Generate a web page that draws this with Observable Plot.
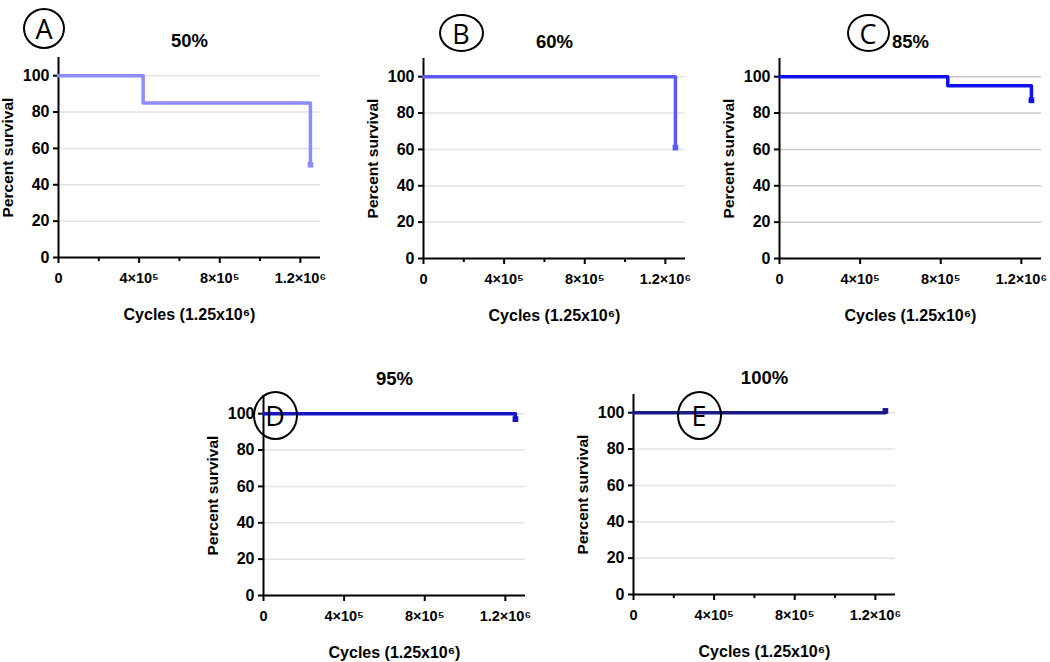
<!DOCTYPE html>
<html><head><meta charset="utf-8">
<script src="https://cdn.jsdelivr.net/npm/d3@7"></script>
<script src="https://cdn.jsdelivr.net/npm/@observablehq/plot@0.6"></script>
<style>
body{margin:0;background:#fff;}
#wrap{position:relative;width:1050px;height:662px;overflow:hidden;background:#fff;}
.panel{position:absolute;}
.badge{position:absolute;border:2px solid #000;border-radius:50%;box-sizing:border-box;display:flex;align-items:center;justify-content:center;font-family:"Open Sans",sans-serif;font-size:27px;line-height:1;color:#000;}
</style></head><body><div id="wrap"></div>
<script>
// ---- data ----
const panelIds = ["A", "B", "C", "D", "E"];
const panelTitles = ["50%", "60%", "85%", "95%", "100%"];
const cyclesA = [0, 420000, 1250000];   const survivalA = [100, 85, 51];
const cyclesB = [0, 1250000];           const survivalB = [100, 61];
const cyclesC = [0, 835000, 1250000];   const survivalC = [100, 95, 87];
const cyclesD = [0, 1250000];           const survivalD = [100, 97];
const cyclesE = [0, 1250000];           const survivalE = [100, 101];
const xTickValues = [0, 400000, 800000, 1200000];
const xTickLabels = ["0", "4×10⁵", "8×10⁵", "1.2×10⁶"];
const xMinorTicks = [200000, 600000, 1000000];
const yTickValues = [0, 20, 40, 60, 80, 100];
const gridValues = [20, 40, 60, 80, 100];
const xLabel = "Cycles (1.25x10⁶)";
const yLabel = "Percent survival";

// ---- layout / style ----
const panels = [
  {id: "A", cycles: cyclesA, surv: survivalA, color: "#8c8cff", grid: "#e4e4e4", minor: true,  ox: 58,  oy: 257, badge: [44, 28, 42, 41]},
  {id: "B", cycles: cyclesB, surv: survivalB, color: "#5a5af8", grid: "#e4e4e4", minor: true,  ox: 423, oy: 258, badge: [461, 33, 45, 38]},
  {id: "C", cycles: cyclesC, surv: survivalC, color: "#1010f2", grid: "#c9c9c9", minor: false, ox: 779, oy: 258, badge: [868, 33, 43, 38]},
  {id: "D", cycles: cyclesD, surv: survivalD, color: "#1515c4", grid: "#e4e4e4", minor: false, ox: 263, oy: 595, badge: [275, 415, 45, 49]},
  {id: "E", cycles: cyclesE, surv: survivalE, color: "#1b1b86", grid: "#e4e4e4", minor: true,  ox: 633, oy: 594, badge: [699, 415, 45, 49]}
];
const mT = 40, mL = 62, mR = 12, mB = 72, fw = 262, fh = 200;
const wrap = document.getElementById("wrap");

panels.forEach((p, k) => {
  const rows = p.cycles.map((t, i) => ({t, s: p.surv[i]}));
  const last = rows[rows.length - 1];
  const marks = [
    Plot.ruleY(gridValues, {stroke: p.grid, strokeWidth: 1.5}),
    Plot.ruleX([0], {y1: 0, y2: 110, stroke: "#000", strokeWidth: 2}),
    Plot.ruleY([0], {x1: 0, x2: 1300000, stroke: "#000", strokeWidth: 2}),
    Plot.axisY({ticks: yTickValues, tickSize: 5, tickFormat: () => "", label: null, strokeWidth: 2}),
    Plot.axisX({ticks: xTickValues, tickSize: 6, tickFormat: () => "", label: null, strokeWidth: 2}),
    Plot.text(yTickValues, {y: d => d, text: d => String(d), frameAnchor: "left", dx: -9, textAnchor: "end", lineAnchor: "middle", fontSize: 16, fontWeight: "bold"}),
    Plot.text(xTickValues, {x: d => d, text: (d, i) => xTickLabels[i], frameAnchor: "bottom", dy: 21, textAnchor: "middle", lineAnchor: "middle", fontSize: 14.5, fontWeight: "bold"}),
    Plot.line(rows, {x: "t", y: "s", curve: "step-after", stroke: p.color, strokeWidth: 3.5}),
    Plot.dot([last], {x: "t", y: "s", symbol: "square", r: 3.2, fill: p.color}),
    Plot.text([panelTitles[k]], {frameAnchor: "top", dy: -16, fontSize: 18.5, fontWeight: "bold", lineAnchor: "middle"}),
    Plot.text([xLabel], {frameAnchor: "bottom", dy: 57, fontSize: 16, fontWeight: "bold", lineAnchor: "middle"}),
    Plot.text([yLabel], {frameAnchor: "left", dx: -50, rotate: -90, fontSize: 15.5, fontWeight: "bold", textAnchor: "middle", lineAnchor: "middle"})
  ];
  if (p.minor) marks.splice(5, 0, Plot.axisX({ticks: xMinorTicks, tickSize: 4, tickFormat: () => "", label: null, strokeWidth: 2}));
  const chart = Plot.plot({
    width: mL + fw + mR, height: mT + fh + mB,
    marginTop: mT, marginLeft: mL, marginRight: mR, marginBottom: mB,
    x: {domain: [0, 1300000]}, y: {domain: [0, 110]},
    style: {fontFamily: "'Liberation Sans', Arial, sans-serif", background: "transparent", overflow: "visible", color: "#000"},
    marks
  });
  chart.classList.add("panel");
  chart.style.left = (p.ox - mL) + "px";
  chart.style.top = (p.oy - fh - mT) + "px";
  wrap.appendChild(chart);
});

panels.forEach((p, k) => {
  const [cx, cy, w, h] = p.badge;
  const b = document.createElement("div");
  b.className = "badge";
  b.textContent = panelIds[k];
  b.style.left = (cx - w / 2) + "px";
  b.style.top = (cy - h / 2) + "px";
  b.style.width = w + "px";
  b.style.height = h + "px";
  wrap.appendChild(b);
});
</script></body></html>
